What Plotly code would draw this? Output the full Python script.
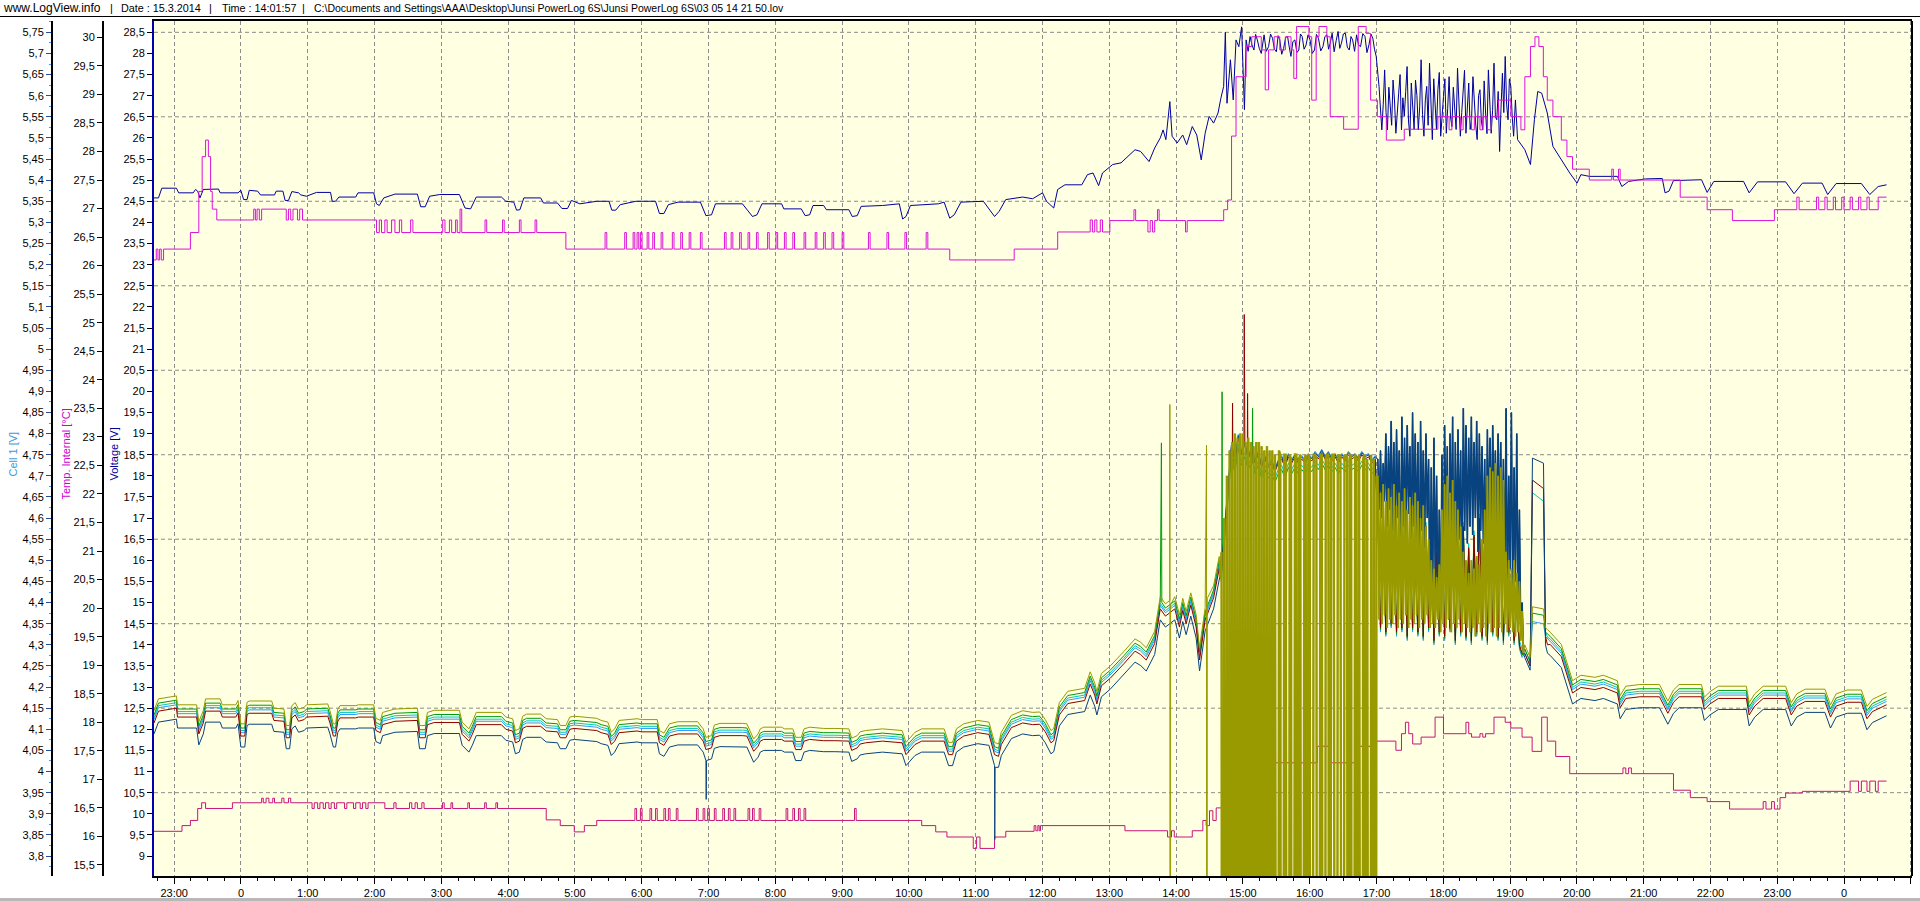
import plotly.graph_objects as go

# ---------------------------------------------------------------- data
# time is in hours, 0 = midnight of the first night (23:00 = -1, next 0 = 24)
HOUR_TICKS = list(range(-1, 26))
HOUR_LABELS = ["23:00", "0", "1:00", "2:00", "3:00", "4:00", "5:00", "6:00", "7:00",
               "8:00", "9:00", "10:00", "11:00", "12:00", "13:00", "14:00", "15:00",
               "16:00", "17:00", "18:00", "19:00", "20:00", "21:00", "22:00", "23:00",
               "0", "1:00"]

# pack voltage [V]  (time, value)
PACK = [
    (-1.302, 24.58), (-1.235, 24.58), (-1.185, 24.81), (-0.966, 24.81), (-0.933, 24.70),
    (-0.715, 24.70), (-0.681, 24.78), (-0.648, 24.74), (-0.614, 24.58), (-0.564, 24.78),
    (-0.337, 24.79), (-0.312, 24.70), (-0.044, 24.70), (-0.002, 24.76), (0.040, 24.54),
    (0.091, 24.54), (0.124, 24.76), (0.250, 24.74), (0.292, 24.65), (0.502, 24.65),
    (0.527, 24.74), (0.628, 24.74), (0.661, 24.52), (0.711, 24.52), (0.762, 24.73),
    (0.862, 24.70), (0.896, 24.65), (0.980, 24.62), (1.131, 24.71), (1.341, 24.71),
    (1.366, 24.50), (1.416, 24.50), (1.466, 24.60), (1.718, 24.60), (1.752, 24.70),
    (1.987, 24.70), (2.029, 24.44), (2.071, 24.40), (2.138, 24.58), (2.305, 24.67),
    (2.641, 24.67), (2.691, 24.37), (2.758, 24.37), (2.825, 24.62), (2.977, 24.66),
    (3.270, 24.66), (3.354, 24.34), (3.438, 24.32), (3.522, 24.60), (3.899, 24.60),
    (3.966, 24.50), (4.084, 24.48), (4.126, 24.29), (4.176, 24.30), (4.235, 24.58),
    (4.487, 24.58), (4.529, 24.46), (4.738, 24.46), (4.805, 24.33), (4.889, 24.33),
    (4.948, 24.52), (5.074, 24.44), (5.326, 24.50), (5.510, 24.50), (5.552, 24.29),
    (5.611, 24.29), (5.678, 24.42), (5.913, 24.50), (6.206, 24.50), (6.265, 24.21),
    (6.332, 24.21), (6.399, 24.42), (6.542, 24.48), (6.878, 24.48), (6.961, 24.16),
    (7.045, 24.18), (7.104, 24.44), (7.507, 24.44), (7.658, 24.14), (7.725, 24.18),
    (7.800, 24.44), (8.094, 24.44), (8.127, 24.32), (8.388, 24.32), (8.446, 24.16),
    (8.514, 24.18), (8.564, 24.40), (8.723, 24.40), (8.765, 24.30), (9.101, 24.30),
    (9.151, 24.14), (9.226, 24.16), (9.285, 24.38), (9.604, 24.40), (9.856, 24.44),
    (9.906, 24.08), (9.956, 24.14), (10.023, 24.40), (10.443, 24.44), (10.527, 24.48),
    (10.611, 24.10), (10.678, 24.18), (10.779, 24.48), (11.114, 24.50), (11.282, 24.14),
    (11.350, 24.26), (11.450, 24.54), (11.702, 24.60), (11.852, 24.56), (12.000, 24.70),
    (12.059, 24.50), (12.168, 24.34), (12.227, 24.78), (12.336, 24.89), (12.588, 24.89),
    (12.672, 25.13), (12.756, 25.17), (12.840, 24.87), (12.898, 25.17), (13.050, 25.37),
    (13.175, 25.41), (13.301, 25.60), (13.385, 25.72), (13.469, 25.68), (13.595, 25.44),
    (13.679, 25.76), (13.763, 26.00), (13.805, 26.19), (13.847, 25.96), (13.906, 26.86),
    (13.940, 26.04), (14.015, 25.88), (14.099, 26.07), (14.158, 25.84), (14.242, 26.27),
    (14.309, 26.07), (14.376, 25.48), (14.435, 26.11), (14.494, 26.51), (14.561, 26.35),
    (14.628, 26.59), (14.670, 26.94), (14.712, 27.22), (14.737, 28.50), (14.762, 26.82),
    (14.813, 27.85), (14.855, 26.90), (14.897, 28.32), (14.939, 28.16), (14.981, 28.63),
    (15.023, 26.67), (15.048, 28.32), (15.078, 28.05), (15.107, 28.40), (15.136, 28.20),
    (15.165, 28.08), (15.190, 28.45), (15.216, 28.32), (15.245, 28.12), (15.275, 28.00),
    (15.296, 28.30), (15.317, 28.44), (15.350, 28.05), (15.384, 28.16), (15.414, 28.46),
    (15.443, 28.36), (15.472, 28.10), (15.501, 28.04), (15.527, 28.42), (15.552, 28.32),
    (15.581, 27.98), (15.610, 28.12), (15.640, 28.38), (15.669, 28.40), (15.694, 28.15),
    (15.719, 27.93), (15.748, 28.28), (15.778, 28.32), (15.808, 28.02), (15.837, 28.08),
    (15.862, 28.46), (15.887, 28.40), (15.916, 28.10), (15.946, 28.20), (15.975, 28.44),
    (16.005, 28.32), (16.038, 28.00), (16.072, 28.08), (16.101, 28.45), (16.131, 28.36),
    (16.165, 28.06), (16.198, 28.16), (16.228, 28.40), (16.257, 28.44), (16.282, 28.10),
    (16.307, 28.24), (16.336, 28.48), (16.366, 28.04), (16.396, 28.30), (16.425, 28.52),
    (16.450, 28.12), (16.475, 28.24), (16.504, 28.46), (16.534, 28.48), (16.563, 28.15),
    (16.593, 28.08), (16.618, 28.40), (16.643, 28.32), (16.672, 28.05), (16.702, 28.44),
    (16.731, 28.20), (16.761, 28.16), (16.795, 28.47), (16.828, 28.40), (16.857, 28.02),
    (16.887, 28.20), (16.916, 28.46), (16.945, 28.36), (16.970, 28.10), (16.996, 27.93),
    (17.038, 27.22), (17.080, 26.19), (17.101, 26.80), (17.122, 27.61), (17.143, 26.60),
    (17.164, 26.19), (17.185, 27.20), (17.206, 26.74), (17.227, 26.30), (17.248, 27.37),
    (17.269, 26.90), (17.290, 26.11), (17.311, 26.70), (17.332, 27.06), (17.353, 27.50),
    (17.374, 26.19), (17.395, 26.95), (17.416, 26.51), (17.437, 27.10), (17.458, 27.69),
    (17.479, 26.40), (17.500, 26.04), (17.521, 27.30), (17.542, 26.82), (17.563, 26.20),
    (17.584, 27.37), (17.605, 27.00), (17.626, 26.19), (17.647, 26.75), (17.668, 27.85),
    (17.689, 26.55), (17.710, 26.04), (17.731, 26.90), (17.752, 27.22), (17.773, 26.30),
    (17.794, 27.77), (17.815, 26.80), (17.836, 25.96), (17.857, 27.40), (17.877, 26.67),
    (17.898, 26.20), (17.919, 27.14), (17.940, 27.55), (17.961, 26.04), (17.982, 26.60),
    (18.003, 26.98), (18.024, 27.40), (18.045, 26.11), (18.066, 26.70), (18.087, 27.45),
    (18.108, 26.50), (18.129, 26.27), (18.150, 27.20), (18.171, 26.74), (18.192, 26.20),
    (18.213, 27.65), (18.234, 26.90), (18.255, 26.04), (18.276, 26.60), (18.297, 27.06),
    (18.318, 27.60), (18.339, 26.11), (18.360, 26.80), (18.381, 27.30), (18.402, 26.20),
    (18.423, 26.43), (18.444, 27.45), (18.465, 26.82), (18.486, 26.30), (18.507, 25.96),
    (18.528, 27.00), (18.549, 27.14), (18.570, 26.40), (18.591, 26.19), (18.612, 27.35),
    (18.633, 26.59), (18.654, 26.10), (18.675, 27.61), (18.696, 26.85), (18.717, 26.11),
    (18.738, 26.65), (18.759, 27.77), (18.780, 26.50), (18.801, 26.43), (18.822, 27.10),
    (18.843, 25.68), (18.864, 26.70), (18.885, 27.53), (18.906, 26.60), (18.927, 27.93),
    (18.948, 26.80), (18.969, 26.43), (18.990, 27.40), (19.011, 27.22), (19.032, 26.50),
    (19.053, 26.04), (19.080, 26.90), (19.112, 25.96), (19.221, 25.72), (19.305, 25.37),
    (19.364, 26.43), (19.414, 27.10), (19.473, 27.06), (19.557, 26.59), (19.641, 25.80),
    (19.767, 25.48), (19.893, 25.17), (20.002, 24.93), (20.060, 25.13), (20.186, 25.09),
    (20.606, 25.09), (20.673, 24.85), (20.774, 24.97), (21.026, 25.03), (21.278, 25.04),
    (21.320, 24.70), (21.379, 24.74), (21.446, 24.99), (21.866, 25.01), (21.950, 24.71),
    (22.050, 24.97), (22.495, 24.97), (22.579, 24.70), (22.705, 24.96), (23.125, 24.96),
    (23.251, 24.68), (23.377, 24.93), (23.671, 24.93), (23.755, 24.66), (23.881, 24.92),
    (24.259, 24.92), (24.385, 24.66), (24.511, 24.85), (24.636, 24.89),
]

# upper temperature trace [°C], stepped
TEMP_HI = [
    (-1.302, 26.10), (-1.268, 26.29), (-1.243, 26.10), (-1.218, 26.29), (-1.193, 26.10),
    (-1.159, 26.29), (-0.757, 26.58), (-0.631, 27.30), (-0.581, 27.91), (-0.530, 28.20),
    (-0.488, 27.91), (-0.455, 27.30), (-0.430, 26.99), (-0.362, 26.80), (0.191, 26.99),
    (0.216, 26.80), (0.241, 26.99), (0.275, 26.80), (0.309, 26.99), (0.678, 26.80),
    (0.711, 26.99), (0.745, 26.80), (0.779, 26.99), (0.846, 26.80), (0.879, 26.99),
    (0.921, 26.80), (2.029, 26.58), (2.071, 26.80), (2.104, 26.58), (2.154, 26.80),
    (2.188, 26.58), (2.255, 26.80), (2.305, 26.58), (2.372, 26.80), (2.406, 26.58),
    (2.540, 26.80), (2.574, 26.58), (3.020, 26.80), (3.054, 26.58), (3.121, 26.80),
    (3.154, 26.58), (3.213, 26.80), (3.238, 26.58), (3.280, 26.99), (3.305, 26.58),
    (3.654, 26.80), (3.679, 26.58), (3.916, 26.80), (3.941, 26.58), (4.168, 26.80),
    (4.193, 26.58), (4.403, 26.80), (4.428, 26.58), (4.864, 26.29), (5.451, 26.58),
    (5.477, 26.29), (5.745, 26.58), (5.770, 26.29), (5.871, 26.58), (5.896, 26.29),
    (5.930, 26.58), (5.955, 26.29), (5.980, 26.58), (6.005, 26.29), (6.081, 26.58),
    (6.106, 26.29), (6.165, 26.58), (6.190, 26.29), (6.290, 26.58), (6.315, 26.29),
    (6.458, 26.58), (6.483, 26.29), (6.584, 26.58), (6.609, 26.29), (6.710, 26.58),
    (6.735, 26.29), (6.878, 26.58), (6.903, 26.29), (7.238, 26.58), (7.263, 26.29),
    (7.339, 26.58), (7.364, 26.29), (7.465, 26.58), (7.490, 26.29), (7.591, 26.58),
    (7.616, 26.29), (7.717, 26.58), (7.742, 26.29), (7.884, 26.58), (7.909, 26.29),
    (8.010, 26.58), (8.035, 26.29), (8.136, 26.58), (8.161, 26.29), (8.262, 26.58),
    (8.287, 26.29), (8.430, 26.58), (8.455, 26.29), (8.597, 26.58), (8.622, 26.29),
    (8.723, 26.58), (8.748, 26.29), (8.849, 26.58), (8.874, 26.29), (9.000, 26.58),
    (9.025, 26.29), (9.394, 26.58), (9.419, 26.29), (9.671, 26.58), (9.696, 26.29),
    (9.940, 26.58), (9.965, 26.29), (10.258, 26.58), (10.283, 26.29), (10.611, 26.10),
    (11.576, 26.29), (12.227, 26.59), (12.714, 26.80), (12.747, 26.59), (12.781, 26.80),
    (12.814, 26.59), (12.865, 26.80), (12.898, 26.59), (13.008, 26.79), (13.369, 26.98),
    (13.394, 26.79), (13.578, 26.59), (13.612, 26.79), (13.646, 26.59), (13.679, 26.79),
    (13.721, 26.98), (13.746, 26.79), (14.141, 26.59), (14.166, 26.79), (14.712, 26.98),
    (14.771, 27.15), (14.830, 28.27), (14.897, 29.31), (15.048, 29.84), (15.132, 30.01),
    (15.275, 29.78), (15.334, 29.08), (15.384, 29.78), (15.468, 30.01), (15.552, 29.78),
    (15.636, 30.01), (15.720, 29.78), (15.762, 29.28), (15.804, 30.19), (15.988, 30.01),
    (16.030, 28.90), (16.097, 30.01), (16.139, 30.19), (16.257, 30.01), (16.307, 28.61),
    (16.508, 28.39), (16.727, 30.19), (16.845, 30.07), (16.912, 28.90), (17.013, 28.61),
    (17.147, 28.20), (17.416, 28.39), (17.919, 28.61), (18.087, 28.38), (18.129, 28.61),
    (18.255, 28.38), (18.297, 28.61), (18.423, 28.38), (18.465, 28.61), (18.549, 28.38),
    (18.591, 28.61), (18.658, 28.38), (18.717, 28.61), (18.826, 28.90), (19.011, 28.61),
    (19.162, 28.38), (19.221, 29.31), (19.305, 29.84), (19.372, 30.01), (19.431, 29.84),
    (19.498, 29.31), (19.557, 28.90), (19.641, 28.61), (19.767, 28.20), (19.851, 27.91),
    (19.935, 27.69), (20.186, 27.50), (20.522, 27.69), (20.547, 27.50), (20.623, 27.69),
    (20.648, 27.50), (21.547, 27.20), (21.950, 26.98), (22.328, 26.79), (22.957, 26.98),
    (23.293, 27.20), (23.327, 26.98), (23.587, 27.20), (23.620, 26.98), (23.713, 27.20),
    (23.747, 26.98), (23.839, 27.20), (23.872, 26.98), (23.965, 27.20), (23.998, 26.98),
    (24.091, 27.20), (24.125, 26.98), (24.217, 27.20), (24.251, 26.98), (24.343, 27.20),
    (24.377, 26.98), (24.511, 27.20), (24.636, 27.20),
]

# "Temp. Internal" [°C], stepped
TEMP_LO = [
    (-1.302, 16.09), (-0.883, 16.19), (-0.757, 16.28), (-0.648, 16.49), (-0.589, 16.59),
    (-0.530, 16.49), (-0.128, 16.59), (0.309, 16.67), (0.334, 16.59), (0.376, 16.67),
    (0.418, 16.59), (0.476, 16.67), (0.502, 16.59), (0.611, 16.67), (0.644, 16.59),
    (0.711, 16.67), (0.745, 16.59), (1.064, 16.49), (1.097, 16.59), (1.148, 16.49),
    (1.182, 16.59), (1.232, 16.49), (1.266, 16.59), (1.316, 16.49), (1.350, 16.59),
    (1.399, 16.49), (1.433, 16.59), (1.551, 16.49), (1.585, 16.59), (1.685, 16.49),
    (1.718, 16.59), (1.785, 16.49), (1.819, 16.59), (1.869, 16.49), (1.903, 16.59),
    (2.154, 16.49), (2.289, 16.59), (2.322, 16.49), (2.523, 16.59), (2.557, 16.49),
    (2.607, 16.59), (2.641, 16.49), (2.708, 16.59), (2.741, 16.49), (3.018, 16.59),
    (3.043, 16.49), (3.144, 16.59), (3.169, 16.49), (3.396, 16.59), (3.421, 16.49),
    (3.648, 16.59), (3.673, 16.49), (3.816, 16.59), (3.841, 16.49), (4.570, 16.29),
    (4.780, 16.19), (4.990, 16.08), (5.141, 16.19), (5.326, 16.28), (5.898, 16.49),
    (5.923, 16.28), (5.980, 16.49), (6.005, 16.28), (6.123, 16.49), (6.148, 16.28),
    (6.207, 16.49), (6.232, 16.28), (6.332, 16.49), (6.357, 16.28), (6.399, 16.49),
    (6.424, 16.28), (6.517, 16.49), (6.542, 16.28), (6.819, 16.49), (6.844, 16.28),
    (6.919, 16.49), (6.944, 16.28), (6.987, 16.49), (7.012, 16.28), (7.087, 16.49),
    (7.112, 16.28), (7.213, 16.49), (7.238, 16.28), (7.297, 16.49), (7.322, 16.28),
    (7.381, 16.49), (7.406, 16.28), (7.591, 16.49), (7.616, 16.28), (7.658, 16.49),
    (7.683, 16.28), (7.758, 16.49), (7.783, 16.28), (8.161, 16.49), (8.186, 16.28),
    (8.262, 16.49), (8.287, 16.28), (8.346, 16.49), (8.371, 16.28), (8.430, 16.49),
    (8.455, 16.28), (9.185, 16.49), (9.210, 16.28), (10.191, 16.19), (10.401, 16.08),
    (10.569, 15.99), (10.963, 15.79), (11.013, 15.99), (11.064, 15.79), (11.282, 15.99),
    (11.450, 16.09), (11.874, 16.19), (11.900, 16.10), (11.930, 16.19), (11.950, 16.10),
    (11.970, 16.19), (13.234, 16.10), (13.872, 15.99), (13.931, 16.10), (13.973, 15.99),
    (14.242, 16.10), (14.400, 16.28), (14.450, 16.19), (14.500, 16.45), (14.550, 16.28),
    (14.600, 16.50), (14.771, 16.77), (14.897, 17.03), (15.191, 17.16), (15.401, 17.29),
    (15.778, 17.58), (15.837, 17.29), (16.114, 17.58), (16.324, 17.29), (16.702, 17.58),
    (16.912, 17.67), (17.290, 17.51), (17.374, 17.80), (17.433, 18.00), (17.483, 17.80),
    (17.542, 17.62), (17.668, 17.74), (17.877, 18.09), (18.003, 17.80), (18.339, 18.00),
    (18.381, 17.80), (18.423, 17.74), (18.549, 17.80), (18.591, 17.74), (18.633, 17.80),
    (18.759, 18.09), (18.927, 18.00), (19.011, 17.90), (19.179, 17.74), (19.330, 17.49),
    (19.473, 18.09), (19.557, 17.67), (19.683, 17.40), (19.893, 17.10), (20.690, 17.20),
    (20.732, 17.10), (20.774, 17.20), (20.816, 17.10), (21.446, 16.81), (21.698, 16.68),
    (21.950, 16.61), (22.286, 16.48), (22.789, 16.61), (22.831, 16.48), (22.915, 16.61),
    (22.957, 16.48), (23.041, 16.68), (23.125, 16.76), (23.377, 16.79), (24.091, 16.97),
    (24.217, 16.79), (24.259, 16.97), (24.343, 16.79), (24.385, 16.97), (24.469, 16.79),
    (24.511, 16.97), (24.636, 16.97),
]

# top cell [V] during the quiet stretches (the other cells sit a fixed gap below it)
CELL_TOP_1 = [
    (-1.302, 4.144), (-1.235, 4.172), (-0.966, 4.179), (-0.950, 4.158), (-0.664, 4.158),
    (-0.631, 4.118), (-0.564, 4.144), (-0.530, 4.172), (-0.312, 4.172), (-0.279, 4.158),
    (-0.077, 4.158), (-0.044, 4.168), (-0.002, 4.113), (0.057, 4.113), (0.091, 4.164),
    (0.124, 4.167), (0.460, 4.167), (0.493, 4.150), (0.644, 4.148), (0.678, 4.109),
    (0.728, 4.109), (0.762, 4.156), (0.812, 4.163), (0.862, 4.148), (0.946, 4.152),
    (0.980, 4.158), (1.299, 4.160), (1.332, 4.144), (1.383, 4.113), (1.416, 4.113),
    (1.450, 4.148), (1.483, 4.156), (1.718, 4.156), (1.760, 4.158), (1.987, 4.158),
    (2.020, 4.126), (2.087, 4.121), (2.121, 4.140), (2.305, 4.148), (2.641, 4.150),
    (2.674, 4.109), (2.758, 4.109), (2.792, 4.140), (2.893, 4.145), (3.270, 4.145),
    (3.312, 4.117), (3.413, 4.101), (3.463, 4.117), (3.522, 4.140), (3.899, 4.140),
    (3.966, 4.129), (4.067, 4.125), (4.109, 4.097), (4.168, 4.101), (4.218, 4.131),
    (4.277, 4.136), (4.487, 4.136), (4.570, 4.125), (4.738, 4.123), (4.780, 4.109),
    (4.864, 4.109), (4.923, 4.129), (4.990, 4.131), (5.326, 4.126), (5.393, 4.121),
    (5.493, 4.117), (5.544, 4.093), (5.594, 4.101), (5.661, 4.121), (5.930, 4.125),
    (5.997, 4.123), (6.232, 4.123), (6.265, 4.097), (6.332, 4.091), (6.416, 4.113),
    (6.542, 4.118), (6.836, 4.118), (6.920, 4.101), (6.961, 4.081), (7.045, 4.085),
    (7.087, 4.110), (7.171, 4.114), (7.507, 4.114), (7.574, 4.113), (7.675, 4.077),
    (7.742, 4.089), (7.775, 4.101), (7.826, 4.105), (8.094, 4.105), (8.136, 4.101),
    (8.262, 4.101), (8.304, 4.081), (8.388, 4.081), (8.430, 4.101), (8.514, 4.105),
    (8.723, 4.102), (8.891, 4.102), (8.975, 4.101), (9.101, 4.101), (9.143, 4.079),
    (9.226, 4.085), (9.268, 4.094), (9.352, 4.097), (9.604, 4.101), (9.898, 4.097),
    (9.956, 4.069), (10.023, 4.081), (10.091, 4.093), (10.191, 4.101), (10.527, 4.101),
    (10.594, 4.069), (10.653, 4.069), (10.711, 4.101), (10.820, 4.113), (11.030, 4.121),
    (11.198, 4.117), (11.282, 4.069), (11.341, 4.065), (11.383, 4.093), (11.534, 4.133),
    (11.702, 4.144), (11.852, 4.140), (11.958, 4.141), (12.042, 4.123), (12.126, 4.097),
    (12.168, 4.102), (12.252, 4.163), (12.378, 4.190), (12.630, 4.197), (12.714, 4.236),
    (12.781, 4.210), (12.814, 4.189), (12.882, 4.232), (13.008, 4.249), (13.217, 4.284),
    (13.385, 4.314), (13.469, 4.306), (13.553, 4.293), (13.679, 4.332), (13.763, 4.414),
    (13.840, 4.397), (13.906, 4.405), (13.980, 4.414), (14.050, 4.371), (14.100, 4.410),
    (14.150, 4.379), (14.220, 4.423), (14.300, 4.371), (14.351, 4.293), (14.435, 4.388),
    (14.561, 4.440), (14.645, 4.509),
]
CELL_TOP_2 = [
    (19.600, 4.330), (19.767, 4.301), (19.935, 4.215), (20.060, 4.228), (20.270, 4.223),
    (20.396, 4.228), (20.606, 4.215), (20.648, 4.180), (20.732, 4.202), (20.942, 4.206),
    (21.236, 4.206), (21.278, 4.193), (21.362, 4.167), (21.446, 4.193), (21.530, 4.206),
    (21.866, 4.206), (21.908, 4.176), (21.992, 4.189), (22.118, 4.202), (22.537, 4.202),
    (22.579, 4.163), (22.663, 4.184), (22.789, 4.202), (23.125, 4.202), (23.209, 4.163),
    (23.293, 4.184), (23.419, 4.195), (23.713, 4.195), (23.797, 4.158), (23.881, 4.184),
    (24.049, 4.193), (24.259, 4.193), (24.343, 4.154), (24.425, 4.171), (24.636, 4.187),
]
CELL_GAP = {"olive": 0.0, "green": -0.010, "cyan": -0.016, "sky": -0.021,
            "red": -0.029, "navy": -0.055}

# heavy-load stretch A (14:40-17:00): top cell drops out to 0 V again and again
FAST_DT = 0.02
OLIVE_A_T0 = 14.66
OLIVE_A = [
    4.46, 4.52, 0.0, 4.60, 0.0, 4.70, 0.0, 4.76, 0.0, 4.78,
    0.0, 4.80, 0.0, 4.79, 0.0, 4.80, 0.0, 4.80, 0.0, 4.78,
    0.0, 4.79, 0.0, 4.78, 0.0, 4.77, 0.0, 4.78, 0.0, 4.78,
    0.0, 4.77, 0.0, 4.76, 0.0, 4.77, 0.0, 4.76, 0.0, 4.76,
    0.0, 4.75, 0.0, 0.0, 4.76, 4.75, 0.0, 0.0, 4.75, 4.75,
    0.0, 0.0, 4.75, 4.74, 0.0, 0.0, 4.75, 4.75, 0.0, 4.74,
    4.75, 0.0, 0.0, 4.74, 4.75, 0.0, 4.75, 4.74, 0.0, 0.0,
    4.75, 4.75, 4.74, 0.0, 0.0, 4.75, 4.75, 0.0, 0.0, 4.74,
    4.75, 4.75, 0.0, 4.74, 4.75, 4.75, 0.0, 0.0, 4.75, 4.74,
    4.75, 0.0, 0.0, 4.75, 4.74, 4.75, 0.0, 4.74, 4.75, 0.0,
    0.0, 4.75, 4.74, 0.0, 4.75, 0.0, 0.0, 4.74, 4.75, 0.0,
    4.74, 0.0, 0.0, 4.75, 0.0, 4.74, 0.0, 4.70,
]
MID_A_T0 = 14.68
MID_A_DT = 0.05
MID_A = [
    4.47, 4.58, 4.68, 4.77, 4.73, 4.79, 4.75, 4.77, 4.74, 4.76,
    4.73, 4.75, 4.72, 4.74, 4.72, 4.73, 4.71, 4.73, 4.74, 4.72,
    4.745, 4.73, 4.745, 4.73, 4.74, 4.73, 4.745, 4.735, 4.75, 4.74,
    4.755, 4.74, 4.75, 4.735, 4.745, 4.73, 4.745, 4.735, 4.75, 4.74,
    4.745, 4.735, 4.75, 4.74, 4.745, 4.73, 4.74,
]
GAP_A = {"green": -0.025, "cyan": -0.015, "sky": 0.008, "red": 0.0, "navy": 0.005}

# heavy-load stretch B (17:00-19:12)
B_T0 = 17.02
OLIVE_B = [
    4.70, 4.36, 4.66, 4.35, 4.68, 4.37, 4.64, 4.34, 4.67, 4.36,
    4.65, 4.35, 4.68, 4.37, 4.63, 4.34, 4.66, 4.36, 4.64, 4.35,
    4.67, 4.37, 4.62, 4.34, 4.65, 4.36, 4.63, 4.35, 4.66, 4.37,
    4.64, 4.34, 4.60, 4.36, 4.63, 4.35, 4.58, 4.37, 4.55, 4.34,
    4.50, 4.35, 4.48, 4.34, 4.46, 4.36, 4.49, 4.33, 4.62, 4.35,
    4.68, 4.34, 4.70, 4.36, 4.66, 4.33, 4.69, 4.35, 4.64, 4.34,
    4.62, 4.36, 4.58, 4.33, 4.52, 4.35, 4.50, 4.34, 4.47, 4.33,
    4.50, 4.34, 4.48, 4.32, 4.51, 4.35, 4.49, 4.33, 4.55, 4.34,
    4.62, 4.32, 4.70, 4.35, 4.72, 4.33, 4.71, 4.34, 4.73, 4.32,
    4.70, 4.34, 4.72, 4.33, 4.69, 4.35, 4.52, 4.33, 4.50, 4.34,
    4.48, 4.33, 4.50, 4.32, 4.47, 4.33, 4.45, 4.31, 4.38, 4.28,
]
NAVY_B = [
    4.74, 4.62, 4.76, 4.60, 4.73, 4.64, 4.80, 4.58, 4.77, 4.62,
    4.83, 4.57, 4.78, 4.55, 4.81, 4.60, 4.76, 4.45, 4.84, 4.58,
    4.79, 4.56, 4.82, 4.61, 4.77, 4.52, 4.85, 4.58, 4.80, 4.55,
    4.78, 4.42, 4.83, 4.57, 4.76, 4.53, 4.80, 4.60, 4.74, 4.38,
    4.72, 4.40, 4.79, 4.45, 4.70, 4.38, 4.62, 4.36, 4.75, 4.42,
    4.82, 4.55, 4.77, 4.36, 4.80, 4.56, 4.84, 4.38, 4.78, 4.52,
    4.81, 4.55, 4.76, 4.45, 4.86, 4.57, 4.82, 4.54, 4.79, 4.58,
    4.84, 4.56, 4.78, 4.60, 4.83, 4.52, 4.80, 4.57, 4.77, 4.54,
    4.74, 4.42, 4.81, 4.58, 4.79, 4.55, 4.82, 4.60, 4.76, 4.54,
    4.80, 4.57, 4.78, 4.50, 4.74, 4.44, 4.86, 4.40, 4.70, 4.48,
    4.85, 4.38, 4.72, 4.45, 4.80, 4.36, 4.62, 4.32, 4.40, 4.28,
]
MID_B_DT = 0.04
MID_B = [
    4.60, 4.34, 4.55, 4.33, 4.58, 4.35, 4.52, 4.33, 4.57, 4.34,
    4.54, 4.32, 4.56, 4.34, 4.50, 4.33, 4.53, 4.32, 4.58, 4.34,
    4.55, 4.31, 4.52, 4.33, 4.60, 4.32, 4.56, 4.34, 4.50, 4.31,
    4.54, 4.33, 4.58, 4.32, 4.53, 4.31, 4.56, 4.33, 4.60, 4.32,
    4.55, 4.31, 4.58, 4.33, 4.52, 4.32, 4.56, 4.31, 4.50, 4.33,
    4.45, 4.31, 4.40, 4.30, 4.28,
]
GAP_B = {"green": -0.005, "cyan": 0.010, "sky": -0.010, "red": 0.0}

# short step at 19:20
BOX_T = [19.22, 19.30, 19.335, 19.50, 19.53, 19.56]
BOX = {
    "olive": [4.30, 4.27, 4.39, 4.385, 4.34, 4.336],
    "green": [4.29, 4.26, 4.375, 4.37, 4.33, 4.326],
    "sky":   [4.28, 4.25, 4.355, 4.35, 4.32, 4.315],
    "cyan":  [4.29, 4.26, 4.66, 4.64, 4.33, 4.318],
    "red":   [4.28, 4.25, 4.69, 4.67, 4.32, 4.30],
    "navy":  [4.27, 4.24, 4.742, 4.73, 4.30, 4.28],
}

# single glitches
SPIKES = {
    "olive": [(13.906, 4.869), (13.912, 0.0), (13.918, 4.395),
              (14.455, 4.773), (14.461, 0.0), (14.467, 4.41)],
    "green": [(13.780, 4.778), (13.786, 4.40), (14.684, 4.50), (14.688, 4.899),
              (14.692, 4.52), (15.140, 4.73), (15.145, 4.86), (15.150, 4.73)],
    "red":   [(14.840, 4.74), (14.845, 4.872), (14.850, 4.74), (15.015, 4.77),
              (15.020, 5.082), (15.025, 4.77), (15.065, 4.75), (15.070, 4.895),
              (15.075, 4.75)],
    "navy":  [(6.965, 3.934), (6.970, 4.026), (11.285, 3.839), (11.290, 4.01)],
}

GRID_VOLTS = [10.5, 12.5, 14.5, 16.5, 18.5, 20.5, 22.5, 24.5, 26.5, 28.5]

HEADER = ["www.LogView.info", "|", "Date : 15.3.2014", "|", "Time : 14:01:57", "|",
          "C:\\Documents and Settings\\AAA\\Desktop\\Junsi PowerLog 6S\\Junsi PowerLog 6S"
          "\\03 05 14 21 50.lov"]


# ---------------------------------------------------------------- helpers
def comma(v):
    return f"{v:.2f}".rstrip("0").rstrip(".").replace(".", ",")


def cell_points(name):
    gap = CELL_GAP[name]
    pts = [(t, v + gap) for t, v in CELL_TOP_1]
    if name == "olive":
        pts += [(OLIVE_A_T0 + i * FAST_DT, v) for i, v in enumerate(OLIVE_A)]
    else:
        pts += [(MID_A_T0 + i * MID_A_DT, v + GAP_A[name]) for i, v in enumerate(MID_A)]
    if name == "olive":
        pts += [(B_T0 + i * FAST_DT, v) for i, v in enumerate(OLIVE_B)]
    elif name == "navy":
        pts += [(B_T0 + i * FAST_DT, v) for i, v in enumerate(NAVY_B)]
    else:
        pts += [(B_T0 + i * MID_B_DT, v + GAP_B[name]) for i, v in enumerate(MID_B)]
    pts += list(zip(BOX_T, BOX[name]))
    pts += [(t, v + gap) for t, v in CELL_TOP_2]
    pts += SPIKES.get(name, [])
    pts.sort()
    return [p[0] for p in pts], [p[1] for p in pts]


def split(pairs):
    return [p[0] for p in pairs], [p[1] for p in pairs]


def burst(t0, values, color, width):
    # heavier overlay so the dense switching bursts read as a block, as in the logger view
    return go.Scatter(x=[t0 + i * FAST_DT for i in range(len(values))], y=values,
                      mode="lines", yaxis="y3", line=dict(color=color, width=width))


# ---------------------------------------------------------------- figure
W, H = 1920, 901
X0, X1 = 154 / W, 1912 / W
Y0, Y1 = 1 - 876 / H, 1 - 21 / H
FONT = "Liberation Sans, Arial, sans-serif"

fig = go.Figure()

t, v = split(PACK)
fig.add_trace(go.Scatter(x=t, y=v, mode="lines", yaxis="y",
                         line=dict(color="#0000A0", width=1)))
t, v = split(TEMP_HI)
fig.add_trace(go.Scatter(x=t, y=v, mode="lines", yaxis="y2", line_shape="hv",
                         line=dict(color="#DD11DD", width=1)))
t, v = split(TEMP_LO)
fig.add_trace(go.Scatter(x=t, y=v, mode="lines", yaxis="y2", line_shape="hv",
                         line=dict(color="#C8147D", width=1)))

cell_colors = {"cyan": "#00C8C8", "sky": "#3399FF", "green": "#009A10",
               "red": "#8B0000", "olive": "#999900", "navy": "#08427F"}
for name in ["cyan", "sky", "green", "red", "navy", "olive"]:
    t, v = cell_points(name)
    fig.add_trace(go.Scatter(x=t, y=v, mode="lines", yaxis="y3",
                             line=dict(color=cell_colors[name], width=1)))
    if name == "navy":
        fig.add_trace(burst(B_T0, NAVY_B, cell_colors["navy"], 1.6))

fig.add_trace(burst(OLIVE_A_T0, OLIVE_A, cell_colors["olive"], 2.4))
fig.add_trace(burst(B_T0, OLIVE_B, cell_colors["olive"], 1.8))

volt_ticks = [9 + 0.5 * i for i in range(40)]
temp_ticks = [15.5 + 0.5 * i for i in range(30)]
cell_ticks = [round(3.8 + 0.05 * i, 2) for i in range(40)]
tick_font = dict(family=FONT, size=11, color="black")

fig.update_layout(
    width=W, height=H,
    margin=dict(l=0, r=0, t=0, b=0),
    paper_bgcolor="white",
    plot_bgcolor="#FFFFE1",
    showlegend=False,
    font=dict(family=FONT, size=11, color="black"),
    xaxis=dict(
        domain=[X0, X1], range=[-1.302, 25.017],
        tickmode="array", tickvals=HOUR_TICKS, ticktext=HOUR_LABELS,
        ticks="outside", ticklen=6, tickcolor="black", tickfont=tick_font,
        showline=True, linecolor="black", linewidth=2, mirror=True,
        showgrid=True, gridcolor="#8C8C8C", griddash="4px,3px", gridwidth=1,
        zeroline=False,
        minor=dict(tickmode="linear", tick0=0, dtick=0.25, ticks="outside",
                   ticklen=3, tickcolor="black", showgrid=False),
    ),
    yaxis=dict(
        domain=[Y0, Y1], range=[8.527, 28.768],
        tickmode="array", tickvals=volt_ticks, ticktext=[comma(x) for x in volt_ticks],
        ticks="outside", ticklen=5, tickcolor="black", tickfont=tick_font,
        showline=True, linecolor="#0000B0", linewidth=2,
        showgrid=False, zeroline=False,
    ),
    yaxis2=dict(
        overlaying="y", anchor="free", position=103 / W, side="left",
        range=[15.307, 30.286],
        tickmode="array", tickvals=temp_ticks, ticktext=[comma(x) for x in temp_ticks],
        ticks="outside", ticklen=5, tickcolor="black", tickfont=tick_font,
        showline=True, linecolor="black", linewidth=2,
        showgrid=False, zeroline=False,
    ),
    yaxis3=dict(
        overlaying="y", anchor="free", position=52 / W, side="left",
        range=[3.7527, 5.7768],
        tickmode="array", tickvals=cell_ticks, ticktext=[comma(x) for x in cell_ticks],
        ticks="outside", ticklen=5, tickcolor="#1F4FA0", tickfont=tick_font,
        showline=True, linecolor="black", linewidth=2,
        showgrid=False, zeroline=False,
        minor=dict(tickmode="linear", tick0=3.8, dtick=0.025, ticks="outside",
                   ticklen=2, tickcolor="#3399FF", showgrid=False),
    ),
)

# horizontal dashed grid every 2 V on the voltage scale
for g in GRID_VOLTS:
    fig.add_hline(y=g, line=dict(color="#8C8C8C", width=1, dash="4px,3px"), layer="below")

# right frame edge
fig.add_shape(type="line", xref="paper", yref="paper", x0=X1, x1=X1, y0=Y0, y1=Y1,
              line=dict(color="black", width=2))
# header rule and bottom band
fig.add_shape(type="line", xref="paper", yref="paper", x0=0, x1=1,
              y0=1 - 16.5 / H, y1=1 - 16.5 / H, line=dict(color="black", width=1))
fig.add_shape(type="rect", xref="paper", yref="paper", x0=0, x1=1, y0=0, y1=3 / H,
              line=dict(width=0), fillcolor="#B8B8B8")

header_x = [1, 108, 119, 207, 220, 300, 312]
header_size = [12, 11, 10.8, 11, 10.8, 11, 10.5]
for x, text, size in zip(header_x, HEADER, header_size):
    fig.add_annotation(text=text, xref="paper", yref="paper", x=x / W, y=1 - 8 / H,
                       xanchor="left", yanchor="middle", showarrow=False,
                       font=dict(family=FONT, size=size, color="black"))

mid_y = (Y0 + Y1) / 2 - 6 / H
for x, text, color in [(12, "Cell 1 [V]", "#3A9AD9"),
                       (65, "Temp. Internal [°C]", "#CC00CC"),
                       (113, "Voltage [V]", "#000099")]:
    fig.add_annotation(text=text, xref="paper", yref="paper", x=x / W, y=mid_y,
                       xanchor="center", yanchor="middle", textangle=-90,
                       showarrow=False, font=dict(family=FONT, size=11, color=color))

# the page body carries a default 8 px margin; drop it so the chart fills the window
fig.write_html("out.html", config={"displayModeBar": False},
               post_script="document.body.style.margin='0';")
